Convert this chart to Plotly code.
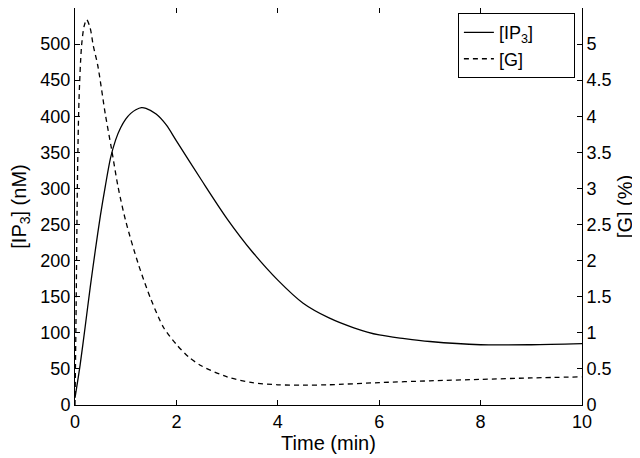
import plotly.graph_objects as go

# IP3 concentration (nM)
t_ip3 = [0, 0.1, 0.2, 0.3, 0.4, 0.5, 0.6, 0.7, 0.8, 0.9, 1.0, 1.1, 1.2, 1.31, 1.4, 1.6, 1.8, 2.0,
         2.5, 3.0, 3.5, 4.0, 4.5, 5.0, 5.5, 6.0, 6.5, 7.0, 8.0, 9.0, 10.0]
ip3 = [10, 55, 108, 163, 214, 262, 304, 342, 367, 384, 396, 404, 409, 412, 411, 403, 388, 366,
       311, 258, 212, 173, 141, 121, 107, 97, 92, 88, 83.5, 83.5, 85]

# G fraction (%)
t_g = [0, 0.02, 0.05, 0.08, 0.13, 0.18, 0.23, 0.3, 0.36, 0.45, 0.6, 0.72, 0.85, 1.0, 1.25,
       1.5, 1.75, 2.0, 2.25, 2.5, 3.0, 3.5, 4.0, 4.5, 5.0, 6.0, 7.0, 8.0, 9.0, 10.0]
g = [0, 1.2, 3.2, 4.25, 4.98, 5.25, 5.34, 5.22, 4.98, 4.7, 4.02, 3.55, 3.02, 2.55, 1.95,
     1.46, 1.07, 0.84, 0.66, 0.54, 0.39, 0.31, 0.28, 0.275, 0.28, 0.31, 0.335, 0.355, 0.375, 0.39]

x_ticks = [0, 2, 4, 6, 8, 10]
left_ticks = list(range(0, 551, 50))
right_ticks = [i * 0.5 for i in range(12)]
right_labels = ["0", "0.5", "1", "1.5", "2", "2.5", "3", "3.5", "4", "4.5", "5", "5.5"]
series_names = ["[IP<sub>3</sub>]", "[G]"]

FONT = "Liberation Sans, Arial, Helvetica, sans-serif"
PAD = "\u00a0" * 7

fig = go.Figure()
fig.add_trace(go.Scatter(x=t_ip3, y=ip3, mode="lines", name=series_names[0] + PAD,
                         line=dict(color="black", width=1.3, shape="spline", smoothing=0.8),
                         yaxis="y"))
fig.add_trace(go.Scatter(x=t_g, y=g, mode="lines", name=series_names[1] + PAD,
                         line=dict(color="black", width=1.3, dash="5px,4px",
                                   shape="spline", smoothing=0.8),
                         yaxis="y2"))

axis_common = dict(showgrid=False, zeroline=False, showline=True, linecolor="black",
                   linewidth=1, ticks="inside", ticklen=5, tickcolor="black",
                   automargin=False,
                   tickfont=dict(size=18, color="black", family=FONT))

# page body has an 8px default margin, so the figure is sized to fit inside 640x458
fig.update_layout(
    width=632, height=450,
    margin=dict(l=67, r=58, t=0, b=53),
    paper_bgcolor="white", plot_bgcolor="white",
    font=dict(family=FONT, color="black", size=18),
    xaxis=dict(range=[0, 10], tickvals=x_ticks, mirror="ticks",
               title=dict(text="Time (min)", font=dict(size=20), standoff=4),
               **axis_common),
    yaxis=dict(range=[0, 550], tickvals=left_ticks, mirror=True,
               title=dict(text="[IP<sub>3</sub>] (nM)", font=dict(size=20), standoff=9),
               **axis_common),
    yaxis2=dict(range=[0, 5.5], tickvals=right_ticks, ticktext=right_labels,
                overlaying="y", side="right",
                title=dict(text="[G] (%)", font=dict(size=20), standoff=7),
                **axis_common),
    legend=dict(x=0.986, y=0.987, xanchor="right", yanchor="top",
                bgcolor="white", bordercolor="black", borderwidth=1,
                font=dict(size=18, color="black", family=FONT),
                tracegroupgap=0),
    showlegend=True,
)

fig.write_html("out.html")
